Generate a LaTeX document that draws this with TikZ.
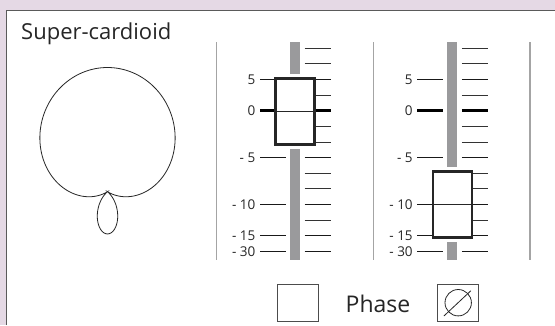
\documentclass[tikz,border=0pt]{standalone}
\usepackage{fontspec}
\setmainfont{Open Sans}
\usepackage{xcolor}
\definecolor{panelbg}{HTML}{E5D9E5}
\definecolor{slotgray}{HTML}{9A9A9C}
\definecolor{rulegray}{HTML}{A4A4A4}
\definecolor{framegray}{HTML}{5A5A5A}
\tikzset{
	sepline/.style={draw=rulegray, line width=1.2pt},
	thintick/.style={draw=black!80, line width=1pt},
	thicktick/.style={draw=black!90, line width=1.5pt},
	zerotick/.style={draw=black, line width=3pt},
	knob/.style={draw=black!85, line width=2.4pt, fill=white},
	scalelabel/.style={anchor=east, inner sep=0pt, text=black!85, font=\fontsize{13.5}{13.5}\selectfont},
	phasebox/.style={draw=black!70, line width=0.9pt, fill=white, minimum width=41pt, minimum height=37pt, inner sep=0pt}
}

\begin{document}
\begin{tikzpicture}[x=1pt, y=-1pt]
			\useasboundingbox (0,0) rectangle (555,325);
			\fill[panelbg] (0,0) rectangle (555,325);
			\fill[white] (6.7,10.7) rectangle (555,325);
			\draw[framegray, line width=1.4pt] (6.7,325) -- (6.7,10.7) -- (555,10.7);
			\node[anchor=base west, inner sep=0pt, text=black!85, font=\fontsize{22}{22}\selectfont] (title) at (21,39.5) {Super-cardioid};
			\draw[black!85, line width=0.8pt] plot[domain=0:360, samples=360, smooth, variable=\t]
				({107.5+115.5*(1-0.3*((0.33+0.67*cos(\t))<0))*abs(0.33+0.67*cos(\t))*sin(\t)}, {191.7-124.2*abs(0.33+0.67*cos(\t))*cos(\t)});
			\foreach \x in {216.6,373.5,530}
				\draw[sepline] (\x,42.3) -- (\x,260);
			\foreach \c/\k/\n in {295/111.3/a, 452.4/204.3/b} {
				\fill[slotgray] (\c-5,42.3) rectangle (\c+5,260);
				\foreach \i/\s in {0/thintick, 1/thintick, 2/thicktick, 3/thintick, 4/zerotick, 5/thintick, 6/thintick,
					7/thicktick, 8/thintick, 9/thintick, 10/thicktick, 11/thintick, 12/thicktick, 13/thicktick}
					\draw[\s] (\c+9.5,{48.3+15.62*\i}) -- (\c+35.5,{48.3+15.62*\i});
				\foreach \i/\s/\t in {2/thicktick/5, 4/zerotick/0, 7/thicktick/{- 5}, 10/thicktick/{- 10}, 12/thicktick/{- 15}, 13/thicktick/{- 30}} {
					\draw[\s] (\c-35,{48.3+15.62*\i}) -- (\c-9.5,{48.3+15.62*\i});
					\node[scalelabel] (lab\n\i) at (\c-39.5,{48.3+15.62*\i}) {\t};
				}
				\fill[white] (\c-6,\k-37.5) rectangle (\c+6,\k+37.5);
				\draw[knob] (\c-19.5,\k-33) rectangle (\c+19.5,\k+33);
				\draw[black!85, line width=1.3pt] (\c-19.5,\k) -- (\c+19.5,\k);
			}
			\node[phasebox] (phaseoff) at (298.2,302.7) {};
			\node[anchor=base, inner sep=0pt, text=black!85, font=\fontsize{23}{23}\selectfont] (phase) at (378,312.5) {Phase};
			\node[phasebox] (phaseon) at (458.2,302.7) {};
			\draw[black!85, line width=0.8pt] (phaseon.center) circle (13.2);
			\draw[black!85, line width=0.8pt] ([shift={(-14.3,13.3)}]phaseon.center) -- ([shift={(12.7,-12)}]phaseon.center);
		\end{tikzpicture}
\end{document}
